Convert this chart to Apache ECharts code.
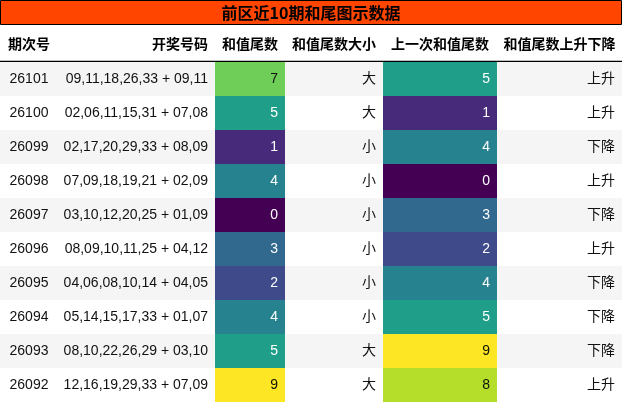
<!DOCTYPE html>
<html><head><meta charset="utf-8">
<script src="https://cdn.jsdelivr.net/npm/echarts@6/dist/echarts.min.js"></script>
<style>html,body{margin:0;padding:0;background:#fff}#c{width:622px;height:403px}</style>
</head><body><div id="c"></div>
<script>
const title = '前区近10期和尾图示数据';
const headers = ['期次号','开奖号码','和值尾数','和值尾数大小','上一次和值尾数','和值尾数上升下降'];
const periods = ['26101','26100','26099','26098','26097','26096','26095','26094','26093','26092'];
const numbers = ['09,11,18,26,33 + 09,11','02,06,11,15,31 + 07,08','02,17,20,29,33 + 08,09','07,09,18,19,21 + 02,09','03,10,12,20,25 + 01,09','08,09,10,11,25 + 04,12','04,06,08,10,14 + 04,05','05,14,15,17,33 + 01,07','08,10,22,26,29 + 03,10','12,16,19,29,33 + 07,09'];
const tails = [7,5,1,4,0,3,2,4,5,9];
const sizes = ['大','大','小','小','小','小','小','小','大','大'];
const prevTails = [5,1,4,0,3,2,4,5,9,8];
const trends = ['上升','上升','下降','上升','下降','上升','下降','下降','下降','上升'];

const viridis = ['#440154','#472a7a','#3e4a89','#31688e','#26828e','#1f9e89','#35b779','#6ece58','#b5de2b','#fde725'];
const edges = [0,58,215,285,383,497,622];
const font = '"Liberation Sans","Noto Sans CJK SC",sans-serif';

const data = periods.map((p,i)=>[i,p,numbers[i],tails[i],sizes[i],prevTails[i],trends[i]]);

const chart = echarts.init(document.getElementById('c'));
chart.setOption({
  animation:false,
  grid:{left:0,right:0,top:62,bottom:1},
  xAxis:{type:'value',min:0,max:622,show:false},
  yAxis:{type:'category',data:periods,inverse:true,show:false},
  series:[{
    type:'custom',
    data:data,
    renderItem:function(params,api){
      const i = api.value(0);
      const c0 = api.coord([0,i]);
      const h = api.size([0,1])[1];
      const y0 = c0[1]-h/2;
      const X = e=>api.coord([edges[e],i])[0];
      const ch = [];
      ch.push({type:'rect',shape:{x:X(0),y:y0,width:X(6)-X(0),height:h},style:{fill:i%2===0?'#f5f5f5':'#ffffff'}});
      const txt=(x,t,align,color)=>({type:'text',style:{x:x,y:y0+h/2,text:t,textAlign:align,textVerticalAlign:'middle',font:'14px '+font,fill:color||'#111'}});
      ch.push(txt((X(0)+X(1))/2,periods[i],'center'));
      ch.push(txt(X(2)-7,numbers[i],'right'));
      const t=tails[i], pt=prevTails[i];
      ch.push({type:'rect',shape:{x:X(2),y:y0,width:X(3)-X(2),height:h},style:{fill:viridis[t]}});
      ch.push(txt(X(3)-7,String(t),'right',t>=6?'#111':'#fff'));
      ch.push(txt(X(4)-7,sizes[i],'right'));
      ch.push({type:'rect',shape:{x:X(4),y:y0,width:X(5)-X(4),height:h},style:{fill:viridis[pt]}});
      ch.push(txt(X(5)-7,String(pt),'right',pt>=6?'#111':'#fff'));
      ch.push(txt(X(6)-7,trends[i],'right'));
      return {type:'group',children:ch};
    }
  }],
  graphic:[
    {type:'rect',shape:{x:0.5,y:0.5,width:621,height:24},style:{fill:'#ff4500',stroke:'#000',lineWidth:1}},
    {type:'text',style:{x:311,y:13,text:title,textAlign:'center',textVerticalAlign:'middle',font:'bold 16px "Noto Sans CJK SC",sans-serif',fill:'#000'}},
    ...headers.map((hd,k)=>{
      let x,al;
      if(k===0){x=8;al='left';}
      else if(k===1){x=208;al='right';}
      else {x=(edges[k]+edges[k+1])/2;al='center';}
      return {type:'text',style:{x:x,y:44,text:hd,textAlign:al,textVerticalAlign:'middle',font:'bold 14px "Noto Sans CJK SC",sans-serif',fill:'#000'}};
    }),
    {type:'line',shape:{x1:0,y1:61.5,x2:622,y2:61.5},style:{stroke:'#000',lineWidth:1.5}}
  ]
});
</script></body></html>
